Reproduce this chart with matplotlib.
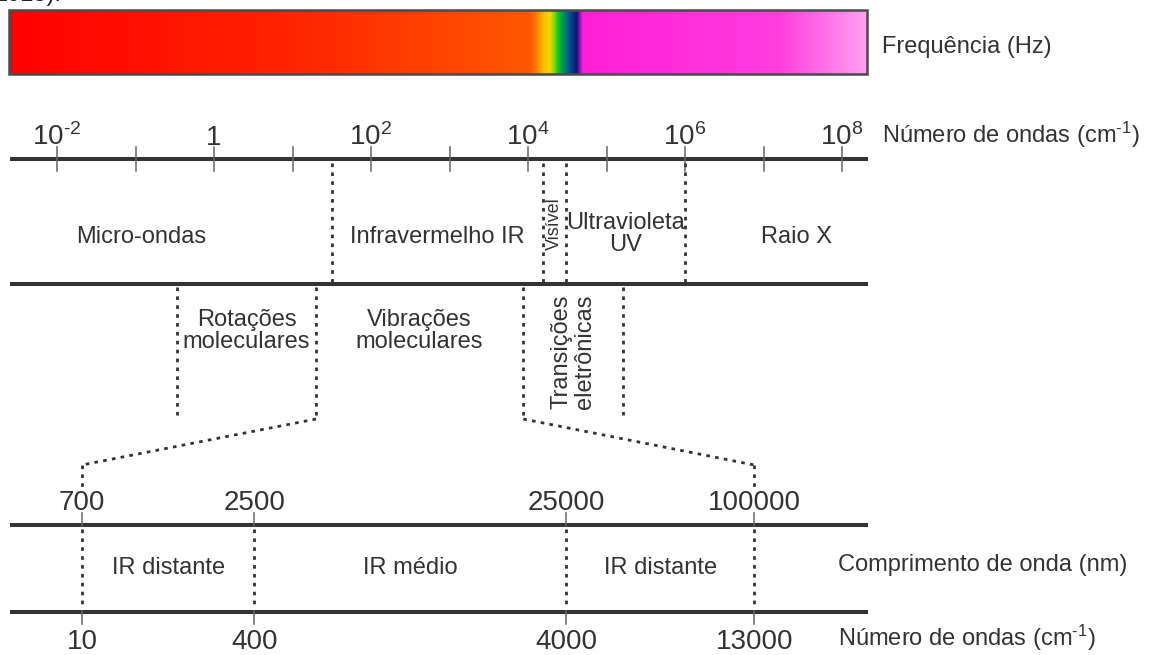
import numpy as np
import matplotlib
matplotlib.use("Agg")
import matplotlib.pyplot as plt
from matplotlib.patches import Rectangle, ConnectionPatch

plt.rcParams["font.family"] = ["Liberation Sans", "DejaVu Sans"]
plt.rcParams["mathtext.fontset"] = "custom"
plt.rcParams["mathtext.rm"] = "Liberation Sans"
plt.rcParams["mathtext.it"] = "Liberation Sans"

# ---- data -------------------------------------------------------------
# wavenumber scale of the full spectrum (cm^-1), decades
wn_exponents = [-2, -1, 0, 1, 2, 3, 4, 5, 6, 7, 8]
wn_labelled = [-2, 0, 2, 4, 6, 8]

# spectral regions and their boundaries (cm^-1)
region_names = ["Micro-ondas", "Infravermelho IR", "Visível", "Ultravioleta\nUV", "Raio X"]
region_edges = [10 ** 1.5, 10 ** 4.19, 10 ** 4.48, 10 ** 6.0]

# molecular processes and the ranges they cover (cm^-1)
process_names = ["Rotações\nmoleculares", "Vibrações\nmoleculares", "Transições\neletrônicas"]
rotation_range = (10 ** -0.47, 10 ** 1.30)
electronic_range = (10 ** 3.94, 10 ** 5.21)

# infrared detail
ir_wavelength_nm = [700, 2500, 25000, 100000]
ir_wavenumber = ["10", "400", "4000", "13000"]
ir_region_names = ["IR distante", "IR médio", "IR distante"]

# ---- style ------------------------------------------------------------
INK = "#333333"
TICK = "#666666"
W, H = 1151, 655
DASH = (0, (1.3, 1.9))
DOT = dict(color=INK, lw=2.0, linestyle=DASH, dash_capstyle="butt")
UNIT = r"(cm$^{\text{-}1}$)"

fig = plt.figure(figsize=(W / 100, H / 100), dpi=100)

# pixel-layout axes
ax = fig.add_axes([0, 0, 1, 1])
ax.set_xlim(0, W)
ax.set_ylim(H, 0)
ax.axis("off")

# upper log scale (wavenumber)
ax_top = fig.add_axes([0, 0, 1, 1], facecolor="none")
ax_top.set_xscale("log")
px_per_dec_top, x0_top = 78.5, 57.0
ax_top.set_xlim(10 ** (-2 - x0_top / px_per_dec_top), 10 ** (-2 + (W - x0_top) / px_per_dec_top))
ax_top.set_ylim(H, 0)
ax_top.axis("off")

# lower log scale (IR wavelength)
ax_bot = fig.add_axes([0, 0, 1, 1], facecolor="none")
ax_bot.set_xscale("log")
px_per_dec_bot, x0_bot, l0_bot = 312.0, 414.75, 3.912
ax_bot.set_xlim(10 ** (l0_bot - x0_bot / px_per_dec_bot), 10 ** (l0_bot + (W - x0_bot) / px_per_dec_bot))
ax_bot.set_ylim(H, 0)
ax_bot.axis("off")

# ---- colour bar of frequencies ---------------------------------------
bar_x0, bar_x1, bar_y0, bar_y1 = 9, 867, 10, 74
stops = [
    (9, (255, 0, 0)), (300, (255, 38, 0)), (530, (255, 88, 0)), (536, (255, 120, 0)),
    (543, (250, 185, 0)), (550, (238, 218, 0)), (555, (120, 212, 20)), (558, (20, 200, 35)),
    (563, (0, 150, 90)), (568, (0, 95, 140)), (573, (0, 55, 135)), (577, (25, 15, 115)),
    (580, (150, 20, 180)), (583, (255, 30, 215)), (780, (255, 62, 222)), (867, (255, 160, 242)),
]
sx = np.array([s[0] for s in stops], float)
sc = np.array([s[1] for s in stops], float) / 255
xs = np.linspace(bar_x0, bar_x1, 1200)
grad = np.stack([np.interp(xs, sx, sc[:, k]) for k in range(3)], axis=-1)[None, :, :]
ax.imshow(grad, extent=(bar_x0, bar_x1, bar_y1, bar_y0), aspect="auto", interpolation="bilinear", zorder=1)
ax.add_patch(Rectangle((bar_x0, bar_y0), bar_x1 - bar_x0, bar_y1 - bar_y0, fill=False,
                       edgecolor="#4a4a4a", lw=1.8, zorder=2))
ax.set_xlim(0, W)
ax.set_ylim(H, 0)

# fragment of the caption above the figure
ax.text(-5, 1.5, "2015).", fontsize=17, color="#222222", ha="left", va="baseline")

# ---- right-hand captions ---------------------------------------------
cap = dict(fontsize=17, color=INK, ha="left", va="center")
ax.text(882, 47, "Frequência (Hz)", **cap)
ax.text(882, 135, "Número de ondas " + UNIT, **cap)
ax.text(838, 565, "Comprimento de onda (nm)", **cap)
ax.text(838, 638, "Número de ondas " + UNIT, **cap)

# ---- main horizontal rules -------------------------------------------
y_axis, y_mid, y_ir_top, y_ir_bot = 159, 284, 525, 612
for y in (y_axis, y_mid, y_ir_top, y_ir_bot):
    ax.plot([10, 868], [y, y], color=INK, lw=2.9, solid_capstyle="butt", zorder=3)

# ---- upper wavenumber scale ------------------------------------------
for e in wn_exponents:
    ax_top.plot([10.0 ** e] * 2, [147, 171], color=TICK, lw=1.1, zorder=2)
for e in wn_labelled:
    if e == 0:
        lab = "1"
    else:
        exp = r"\text{-}%d" % abs(e) if e < 0 else "%d" % e
        lab = r"$\mathregular{10^{%s}}$" % exp
    ax_top.text(10.0 ** e, 145, lab, fontsize=20, color=INK, ha="center", va="baseline")

# region boundaries
for v in region_edges:
    ax_top.plot([v, v], [163, 283], **DOT)

# region labels
lab = dict(fontsize=17, color=INK, ha="center", va="center", linespacing=1.05)
ax.text(141, 237, region_names[0], **lab)
ax_top.text(np.sqrt(region_edges[0] * region_edges[1]), 237, region_names[1], **lab)
ax_top.text(np.sqrt(region_edges[1] * region_edges[2]), 224, region_names[2], rotation=90,
            fontsize=13, color=INK, ha="center", va="center")
ax_top.text(np.sqrt(region_edges[2] * region_edges[3]), 234, region_names[3], **lab)
ax.text(797, 237, region_names[4], **lab)

# ---- molecular processes ---------------------------------------------
ax_top.plot([rotation_range[0]] * 2, [287, 415], **DOT)
ax_top.plot([rotation_range[1]] * 2, [287, 419], **DOT)
ax_top.plot([electronic_range[0]] * 2, [287, 419], **DOT)
ax_top.plot([electronic_range[1]] * 2, [287, 415], **DOT)

ax_top.text(np.sqrt(rotation_range[0] * rotation_range[1]), 331, process_names[0], **lab)
ax_top.text(np.sqrt(rotation_range[1] * electronic_range[0]), 331, process_names[1], **lab)
ax_top.text(np.sqrt(electronic_range[0] * electronic_range[1]), 352, process_names[2],
            rotation=90, **lab)

# zoom lines from the infrared band to the detail scale
for a, b in ((rotation_range[1], ir_wavelength_nm[0]), (electronic_range[0], ir_wavelength_nm[-1])):
    con = ConnectionPatch(xyA=(a, 419), coordsA=ax_top.transData,
                          xyB=(b, 465), coordsB=ax_bot.transData,
                          color=INK, lw=2.0, linestyle=DASH, capstyle="butt")
    fig.add_artist(con)

for v in (ir_wavelength_nm[0], ir_wavelength_nm[-1]):
    ax_bot.plot([v, v], [465, 487], **DOT)

# ---- infrared detail scale -------------------------------------------
for v, wn in zip(ir_wavelength_nm, ir_wavenumber):
    ax_bot.plot([v, v], [513, 526], color=TICK, lw=1.1, zorder=2)
    ax_bot.plot([v, v], [611, 624], color=TICK, lw=1.1, zorder=2)
    ax_bot.plot([v, v], [529, 609], **DOT)
    ax_bot.text(v, 510, f"{v}", fontsize=20, color=INK, ha="center", va="baseline")
    ax_bot.text(v, 649, wn, fontsize=20, color=INK, ha="center", va="baseline")

for i, name in enumerate(ir_region_names):
    mid = np.sqrt(ir_wavelength_nm[i] * ir_wavelength_nm[i + 1])
    ax_bot.text(mid, 568, name, **lab)

fig.savefig("out.png", dpi=100)
